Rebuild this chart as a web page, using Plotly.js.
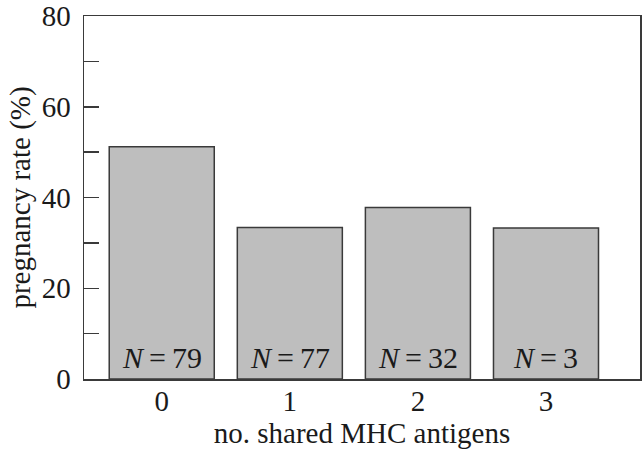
<!DOCTYPE html>
<html>
<head>
<meta charset="utf-8">
<script src="https://cdn.plot.ly/plotly-3.0.1.min.js"></script>
<style>html,body{margin:0;padding:0;background:#fff;}#chart{width:642px;height:453px;}</style>
</head>
<body>
<div id="chart"></div>
<script>
const categories = [0, 1, 2, 3];
const pregnancyRate = [51.2, 33.4, 37.8, 33.3];
const sampleSizes = [79, 77, 32, 3];
const yTickVals = [0, 10, 20, 30, 40, 50, 60, 70, 80];
const yTickText = ['0', '', '20', '', '40', '', '60', '', '80'];

const FONT = 'Liberation Serif, Times New Roman, serif';
const AX = '#3a3a3a';
const TXT = '#1a1a1a';

const trace = {
  type: 'bar',
  x: categories,
  y: pregnancyRate,
  width: 0.82,
  marker: {color: '#bebebe', line: {color: '#3a3a3a', width: 1.5}},
  hoverinfo: 'skip'
};

const annotations = categories.map((c, i) => ({
  x: c, y: 0, xref: 'x', yref: 'y',
  text: '<i>N</i>\u2009=\u2009' + sampleSizes[i],
  showarrow: false,
  yanchor: 'bottom', yshift: 3,
  font: {family: FONT, size: 30, color: TXT}
}));

const layout = {
  width: 642, height: 453,
  margin: {l: 84, r: 1.5, t: 16, b: 73.5},
  paper_bgcolor: '#fff', plot_bgcolor: '#fff',
  showlegend: false,
  font: {family: FONT, size: 29, color: TXT},
  bargap: 0,
  xaxis: {
    range: [-0.607, 3.734],
    tickvals: categories,
    ticktext: categories.map(String),
    ticks: '',
    ticklabelstandoff: -4,
    showline: true, mirror: true, linecolor: AX, linewidth: 1.5,
    showgrid: false, zeroline: false,
    tickfont: {family: FONT, size: 29, color: TXT},
    title: {text: 'no. shared MHC antigens', font: {family: FONT, size: 29, color: TXT}, standoff: 2}
  },
  yaxis: {
    range: [0, 80],
    tickvals: yTickVals,
    ticktext: yTickText,
    ticks: 'inside', ticklen: 15, tickwidth: 1.5, tickcolor: AX,
    ticklabelstandoff: 6,
    showline: true, mirror: true, linecolor: AX, linewidth: 1.5,
    showgrid: false, zeroline: false,
    tickfont: {family: FONT, size: 29, color: TXT},
    title: {text: 'pregnancy rate (%)', font: {family: FONT, size: 29, color: TXT}, standoff: 2}
  },
  annotations: annotations
};

Plotly.newPlot('chart', [trace], layout, {displayModeBar: false, staticPlot: true});
</script>
</body>
</html>
